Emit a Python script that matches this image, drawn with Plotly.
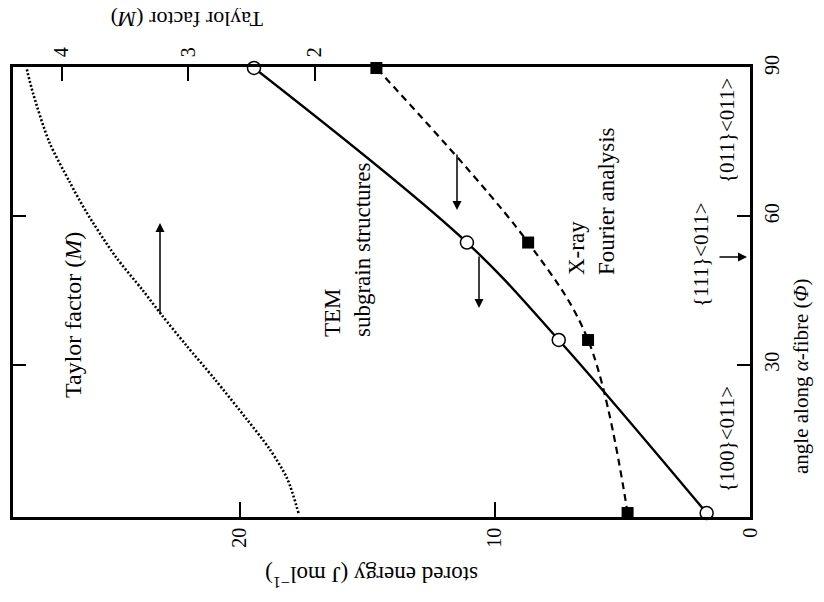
import plotly.graph_objects as go

# ---- data ----
angle_points = [0, 35, 54.7, 90]                 # angle along alpha-fibre (deg)
tem_energy = [1.7, 7.5, 11.1, 19.45]             # TEM subgrain structures (J/mol)
xray_energy = [4.8, 6.35, 8.7, 14.65]            # X-ray Fourier analysis (J/mol)
taylor_angle = [0, 7, 13, 19, 27, 34, 40, 45, 52, 61, 67, 75, 85, 90]
taylor_M = [2.13, 2.22, 2.36, 2.54, 2.79, 3.02, 3.21, 3.36, 3.58, 3.81, 3.94, 4.10, 4.23, 4.28]

energy_ticks = [0, 10, 20]
angle_ticks = [30, 60, 90]
taylor_ticks = [2, 3, 4]

FONT = "Liberation Serif"
OFF = 8                      # default page body margin
W, H = 824 - 2 * OFF, 602 - 2 * OFF
L, R, T, B = 13, 750, 67, 517  # plot-area edges in page pixels


def px(x):
    return (x - L) / (R - L)


def py(y):
    return (B - y) / (B - T)


fig = go.Figure()

fig.add_trace(go.Scatter(
    x=taylor_M, y=taylor_angle, xaxis="x2", yaxis="y", mode="lines",
    line=dict(color="black", width=2.6, dash="2px,2px", shape="spline", smoothing=0.8),
    cliponaxis=False, showlegend=False))

fig.add_trace(go.Scatter(
    x=xray_energy, y=angle_points, mode="lines+markers",
    line=dict(color="black", width=2.2, dash="7px,5px", shape="spline"),
    marker=dict(symbol="square", size=12, color="black"),
    cliponaxis=False, showlegend=False))

fig.add_trace(go.Scatter(
    x=tem_energy, y=angle_points, mode="lines+markers",
    line=dict(color="black", width=2.4, shape="spline"),
    marker=dict(symbol="circle", size=13, color="white",
                line=dict(color="black", width=1.5)),
    cliponaxis=False, showlegend=False))

axis_common = dict(showgrid=False, zeroline=False, showline=True, linecolor="black",
                   linewidth=2.5, ticks="inside", tickcolor="black", tickwidth=2,
                   tickangle=-90, automargin=False,
                   tickfont=dict(family=FONT, size=20, color="black"))

fig.update_layout(
    width=W, height=H,
    margin=dict(l=L - OFF, r=W - (R - OFF), t=T - OFF, b=H - (B - OFF), pad=0),
    paper_bgcolor="white", plot_bgcolor="white",
    font=dict(family=FONT, color="black"),
    xaxis=dict(range=[28.9, 0], tickvals=energy_ticks, ticklen=15,
               ticklabelstandoff=0, mirror=False, **axis_common),
    xaxis2=dict(range=[4.387, -1.439], tickvals=taylor_ticks, ticklen=14,
                overlaying="x", side="top", anchor="y", ticklabelstandoff=3,
                **axis_common),
    yaxis=dict(range=[-0.8, 90.2], tickvals=angle_ticks, ticklen=13, side="right",
               mirror="ticks", ticklabelstandoff=2, **axis_common),
)

ann = []


def text(t, x, y, angle=-90, size=23, align="center"):
    ann.append(dict(text=t, x=px(x), y=py(y), xref="paper", yref="paper",
                    showarrow=False, textangle=angle, align=align,
                    xanchor="center", yanchor="middle",
                    font=dict(family=FONT, size=size, color="black")))


def arrow(hx, hy, tx, ty):
    ann.append(dict(text="", x=px(hx), y=py(hy), xref="paper", yref="paper",
                    ax=tx - hx, ay=ty - hy, showarrow=True, arrowhead=2,
                    arrowsize=1.2, arrowwidth=1.5, arrowcolor="black"))


# axis titles
text("Taylor factor (<i>M</i>)", 187, 20, angle=180, size=22)
text("stored energy (J mol<sup>−1</sup>)", 372, 577, angle=180)
text("angle along <i>α</i>-fibre (<i>Φ</i>)", 801, 376, size=21)

# in-plot labels
text("Taylor factor (<i>M</i>)", 73, 315, size=24)
text("TEM<br>subgrain structures", 348, 250, align="left")
text("X-ray<br>Fourier analysis", 591, 201, align="left")
text("{100}&lt;011&gt;", 727, 439, size=21)
text("{111}&lt;011&gt;", 701, 255, size=21)
text("{011}&lt;011&gt;", 727, 131, size=21)

# arrows
arrow(160, 223, 160, 315)
arrow(457, 210, 457, 153)
arrow(479, 308, 479, 255)
arrow(747, 257, 718, 257)

fig.update_layout(annotations=ann)

fig.write_html("out.html")
